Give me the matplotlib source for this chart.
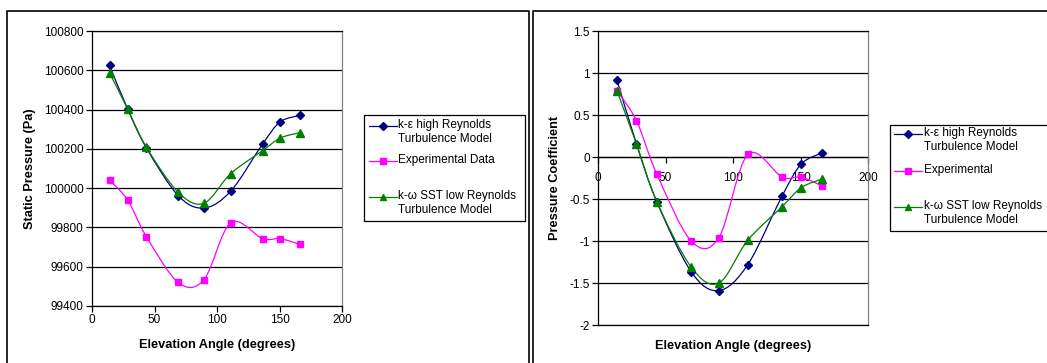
import matplotlib

matplotlib.use("Agg")
import matplotlib.pyplot as plt
from matplotlib.lines import Line2D
from matplotlib.patches import PathPatch, Rectangle
from matplotlib.path import Path

plt.rcParams["font.family"] = ["Liberation Sans", "DejaVu Sans"]
plt.rcParams["axes.unicode_minus"] = False

# elevation angles of the pressure taps (degrees)
angle = [14, 28.5, 43.5, 69, 89.5, 111, 136.5, 150.5, 166]

# static pressure (Pa)
p_ke = [100625, 100403, 100205, 99962, 99899, 99985, 100225, 100337, 100370]
p_exp = [100041, 99940, 99753, 99520, 99534, 99824, 99743, 99743, 99714]
p_sst = [100588, 100403, 100208, 99979, 99923, 100074, 100191, 100255, 100282]

# pressure coefficient
cp_ke = [0.92, 0.155, -0.53, -1.365, -1.59, -1.28, -0.46, -0.085, 0.05]
cp_exp = [0.79, 0.433, -0.20, -1.00, -0.96, 0.03, -0.24, -0.24, -0.345]
cp_sst = [0.79, 0.155, -0.53, -1.31, -1.50, -0.99, -0.59, -0.365, -0.262]

NAVY = "#000080"
MAGENTA = "#FF00FF"
GREEN = "#008000"

W, H = 1047, 363


def fx(px):
    return px / W


def fy(py):
    return 1 - py / H


def smooth_path(xs, ys):
    # Bezier curve through the points, spreadsheet-style smoothing
    pts = list(zip(xs, ys))
    verts = [pts[0]]
    codes = [Path.MOVETO]
    n = len(pts)
    for i in range(n - 1):
        p0 = pts[max(i - 1, 0)]
        p1 = pts[i]
        p2 = pts[i + 1]
        p3 = pts[min(i + 2, n - 1)]
        c1 = (p1[0] + (p2[0] - p0[0]) / 6, p1[1] + (p2[1] - p0[1]) / 6)
        c2 = (p2[0] - (p3[0] - p1[0]) / 6, p2[1] - (p3[1] - p1[1]) / 6)
        verts += [c1, c2, p2]
        codes += [Path.CURVE4] * 3
    return Path(verts, codes)


def plot_series(ax, xs, ys, color, marker, ms):
    ax.add_patch(PathPatch(smooth_path(xs, ys), fill=False, edgecolor=color, lw=0.9, zorder=3))
    ax.plot(xs, ys, ls="none", marker=marker, ms=ms, color=color, mec=color, zorder=4)


def style_axes(ax):
    ax.grid(axis="y", color="black", lw=0.9)
    ax.set_axisbelow(True)
    for side in ["left", "bottom", "top"]:
        ax.spines[side].set_color("black")
        ax.spines[side].set_linewidth(0.9)
    ax.spines["right"].set_color("#808080")
    ax.spines["right"].set_linewidth(0.9)
    ax.tick_params(labelsize=8.5, length=4, width=0.9, pad=2)


def draw_legend(fig, box, lx, tx, rows):
    x0, y0, x1, y1 = box
    fig.add_artist(Rectangle((fx(x0), fy(y1)), fx(x1) - fx(x0), fy(y0) - fy(y1),
                             transform=fig.transFigure, fill=False, ec="black", lw=0.9))
    for label, color, marker, ms, ty in rows:
        fig.add_artist(Line2D([fx(lx), fx(lx + 28)], [fy(ty), fy(ty)], color=color, lw=0.9,
                              transform=fig.transFigure))
        fig.add_artist(Line2D([fx(lx + 14)], [fy(ty)], color=color, marker=marker, ms=ms,
                              transform=fig.transFigure))
        fig.text(fx(tx), fy(ty - 7), label, fontsize=8.5, ha="left", va="top", linespacing=1.25)


fig = plt.figure(figsize=(W / 100, H / 100), dpi=100)

# panel frames
for xs, ys in [([7, 7, 529, 529], [H + 5, 11, 11, H + 5]), ([533, 533, W + 5], [H + 5, 11, 11])]:
    fig.add_artist(Line2D([fx(x) for x in xs], [fy(y) for y in ys], color="black", lw=1.2,
                          transform=fig.transFigure))

# static pressure chart
ax1 = fig.add_axes([fx(92), fy(306), fx(342) - fx(92), fy(31) - fy(306)])
plot_series(ax1, angle, p_ke, NAVY, "D", 4.5)
plot_series(ax1, angle, p_exp, MAGENTA, "s", 5)
plot_series(ax1, angle, p_sst, GREEN, "^", 6)
ax1.set_xlim(0, 200)
ax1.set_ylim(99400, 100800)
ax1.set_xticks(range(0, 201, 50))
ax1.set_yticks(range(99400, 100801, 200))
style_axes(ax1)
ax1.set_xlabel("Elevation Angle (degrees)", fontsize=9.2, fontweight="bold", va="center")
ax1.xaxis.set_label_coords(0.5, (306 - 345) / 275)
ax1.set_ylabel("Static Pressure (Pa)", fontsize=9.2, fontweight="bold", va="center")
ax1.yaxis.set_label_coords((30 - 92) / 250, 0.5)

# pressure coefficient chart, x axis crossing at zero
ax2 = fig.add_axes([fx(598), fy(325), fx(868) - fx(598), fy(31) - fy(325)])
plot_series(ax2, angle, cp_ke, NAVY, "D", 4.5)
plot_series(ax2, angle, cp_exp, MAGENTA, "s", 5)
plot_series(ax2, angle, cp_sst, GREEN, "^", 6)
ax2.set_xlim(0, 200)
ax2.set_ylim(-2, 1.5)
ax2.set_yticks([-2, -1.5, -1, -0.5, 0, 0.5, 1, 1.5])
ax2.set_yticklabels(["-2", "-1.5", "-1", "-0.5", "0", "0.5", "1", "1.5"])
style_axes(ax2)
ax2.tick_params(axis="x", bottom=False, labelbottom=False)
ylo, yhi = ax2.get_ylim()
zero_axis = ax2.secondary_xaxis((0 - ylo) / (yhi - ylo))
zero_axis.set_alignment("bottom")
zero_axis.set_xticks(range(0, 201, 50))
zero_axis.tick_params(labelsize=8.5, length=4, width=0.9, pad=7)
zero_axis.spines["bottom"].set_linewidth(0.9)
ax2.set_xlabel("Elevation Angle (degrees)", fontsize=9.2, fontweight="bold", va="center")
ax2.xaxis.set_label_coords(0.5, (325 - 346) / 294)
ax2.set_ylabel("Pressure Coefficient", fontsize=9.2, fontweight="bold", va="center")
ax2.yaxis.set_label_coords((555 - 598) / 270, 0.5)

draw_legend(fig, (364, 115, 525, 221), 369, 398, [
    ("k-ε high Reynolds\nTurbulence Model", NAVY, "D", 4, 126),
    ("Experimental Data", MAGENTA, "s", 4.5, 161),
    ("k-ω SST low Reynolds\nTurbulence Model", GREEN, "^", 5, 197),
])
draw_legend(fig, (890, 125, W + 10, 231), 894, 924, [
    ("k-ε high Reynolds\nTurbulence Model", NAVY, "D", 4, 134),
    ("Experimental", MAGENTA, "s", 4.5, 171),
    ("k-ω SST low Reynolds\nTurbulence Model", GREEN, "^", 5, 207),
])

fig.savefig("out.png", dpi=100)
